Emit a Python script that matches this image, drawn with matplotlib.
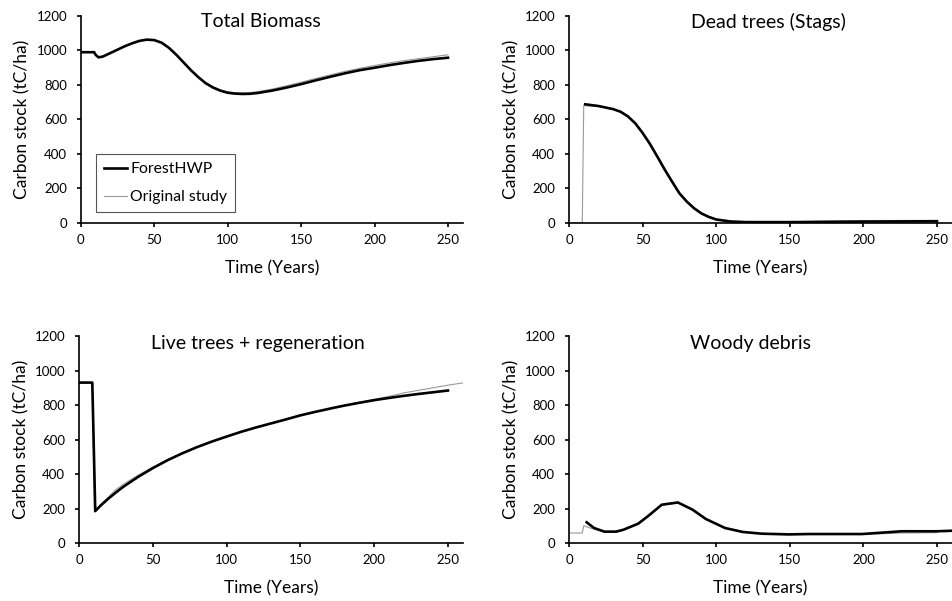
import matplotlib.pyplot as plt

plt.rcParams["font.family"] = ["Lato", "DejaVu Sans"]

# Total Biomass
tb_hwp_x = [0, 9, 10, 12, 15, 20, 25, 30, 35, 40, 45, 50, 55, 60, 65, 70, 75, 80, 85, 90, 95,
            100, 105, 110, 115, 120, 130, 140, 150, 160, 170, 180, 190, 200, 210, 220, 230, 240, 250]
tb_hwp_y = [990, 990, 975, 960, 965, 985, 1005, 1025, 1042, 1056, 1063, 1060, 1045, 1015, 975, 930, 885,
            845, 810, 785, 767, 755, 750, 748, 749, 753, 767, 785, 805, 827, 848, 868, 886, 900, 915,
            928, 940, 950, 958]
tb_orig_x = [0, 9, 10, 12, 15, 20, 25, 30, 35, 40, 45, 50, 55, 60, 65, 70, 75, 80, 85, 90, 95,
             100, 105, 110, 115, 120, 130, 140, 150, 160, 170, 180, 190, 200, 210, 220, 230, 240, 250]
tb_orig_y = [990, 990, 975, 960, 965, 985, 1005, 1025, 1042, 1056, 1063, 1060, 1045, 1015, 975, 930, 886,
             847, 813, 789, 771, 760, 755, 754, 756, 761, 776, 795, 816, 838, 859, 879, 897, 913, 928,
             941, 953, 964, 975]

# Dead trees (Stags)
dt_hwp_x = [11, 20, 30, 35, 40, 45, 50, 55, 60, 65, 70, 75, 80, 85, 90, 95, 100, 110, 120, 150, 200, 250]
dt_hwp_y = [688, 678, 660, 645, 618, 578, 522, 458, 385, 310, 240, 172, 124, 85, 55, 35, 20, 8, 5, 5, 8, 10]
dt_orig_x = [0, 9, 10, 20, 30, 35, 40, 45, 50, 55, 60, 65, 70, 75, 80, 85, 90, 95, 100, 110, 120, 150, 200, 250]
dt_orig_y = [0, 0, 680, 676, 658, 643, 616, 575, 518, 452, 380, 305, 236, 170, 124, 87, 58, 38, 24, 12, 8, 7, 14, 15]

# Live trees + regeneration
lt_hwp_x = [0, 9, 11, 15, 20, 25, 30, 40, 50, 60, 70, 80, 90, 100, 110, 120, 130, 140, 150,
            160, 170, 180, 190, 200, 210, 220, 230, 240, 250]
lt_hwp_y = [930, 930, 185, 220, 258, 293, 326, 383, 434, 480, 520, 556, 588, 617, 645, 670, 693, 716, 740,
            760, 779, 797, 813, 828, 841, 853, 864, 874, 884]
lt_orig_x = [0, 9, 10.5, 15, 20, 25, 30, 40, 50, 60, 70, 80, 90, 100, 110, 120, 130, 140, 150,
             160, 170, 180, 190, 200, 210, 220, 230, 240, 250, 260]
lt_orig_y = [930, 930, 180, 225, 268, 310, 340, 393, 440, 482, 522, 556, 588, 617, 645, 670, 693, 716, 740,
             760, 780, 799, 816, 833, 850, 870, 885, 900, 915, 928]

# Woody debris
wd_hwp_x = [12, 17, 24, 32, 37, 47, 54, 63, 74, 84, 93, 106, 118, 131, 149, 163, 199, 226, 250, 260]
wd_hwp_y = [120, 87, 66, 66, 77, 112, 158, 222, 235, 193, 139, 87, 64, 54, 50, 52, 52, 68, 68, 71]
wd_orig_x = [0, 9, 10, 15, 24, 32, 37, 47, 54, 63, 74, 84, 93, 106, 118, 131, 149, 163, 199, 226, 250]
wd_orig_y = [58, 58, 100, 85, 64, 64, 76, 110, 156, 220, 233, 192, 138, 86, 63, 52, 48, 50, 50, 58, 60]

panels = [
    ("Total Biomass", tb_hwp_x, tb_hwp_y, tb_orig_x, tb_orig_y, [0.085, 0.629, 0.401, 0.3444], 0.471, 0.971),
    ("Dead trees (Stags)", dt_hwp_x, dt_hwp_y, dt_orig_x, dt_orig_y, [0.5977, 0.629, 0.402, 0.3444], 0.522, 0.971),
    ("Live trees + regeneration", lt_hwp_x, lt_hwp_y, lt_orig_x, lt_orig_y, [0.083, 0.0965, 0.403, 0.3444], 0.466, 0.966),
    ("Woody debris", wd_hwp_x, wd_hwp_y, wd_orig_x, wd_orig_y, [0.5977, 0.0965, 0.402, 0.3444], 0.473, 0.966),
]

fig = plt.figure(figsize=(9.52, 6.01), dpi=100)

for i, (title, hx, hy, ox, oy, pos, tx, ty) in enumerate(panels):
    ax = fig.add_axes(pos)
    ax.plot(ox, oy, color="#999999", lw=0.8, label="Original study", zorder=2)
    ax.plot(hx, hy, color="black", lw=1.9, label="ForestHWP", zorder=3)
    ax.set_xlim(0, 260)
    ax.set_ylim(0, 1200)
    ax.set_xticks([0, 50, 100, 150, 200, 250])
    ax.set_yticks(range(0, 1201, 200))
    for s in ["top", "right"]:
        ax.spines[s].set_visible(False)
    for s in ["left", "bottom"]:
        ax.spines[s].set_linewidth(1.2)
    ax.tick_params(axis="both", direction="out", length=3, width=1.2, labelsize=9.5, colors="black")
    ax.tick_params(axis="y", pad=7)
    ax.tick_params(axis="x", pad=5)
    ax.set_xlabel("Time (Years)", fontsize=12.5, labelpad=10.5)
    ax.set_ylabel("Carbon stock (tC/ha)", fontsize=12.5, labelpad=4)
    ax.text(tx, ty, title, transform=ax.transAxes, ha="center", va="center", fontsize=14)
    if i == 0:
        h, l = ax.get_legend_handles_labels()
        ax.legend([h[1], h[0]], [l[1], l[0]], loc="lower left", bbox_to_anchor=(0.039, 0.053),
                  borderaxespad=0, fancybox=False, edgecolor="#555555", framealpha=1,
                  fontsize=11.3, handlelength=1.5, handletextpad=0.2, borderpad=0.5, labelspacing=0.9)
        ax.get_legend().get_frame().set_linewidth(0.8)

fig.savefig("out.png", dpi=100)
